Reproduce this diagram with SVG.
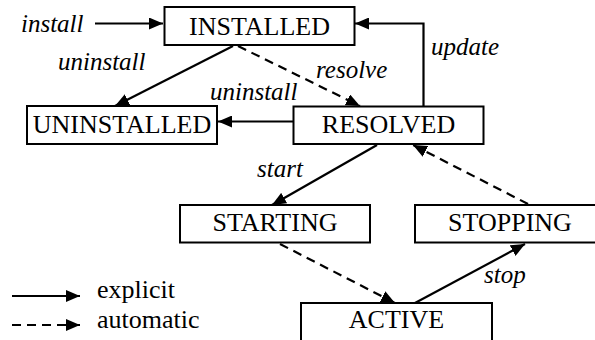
<svg xmlns="http://www.w3.org/2000/svg" width="595" height="340" viewBox="0 0 595 340">
  <style>
    .box { fill: #fff; stroke: #000; stroke-width: 2; }
    .state { font-size: 26px; fill: #000; text-anchor: middle; }
    .lbl { font-size: 25px; font-style: italic; fill: #000; }
    .legend { font-size: 26px; fill: #000; }
    .edge { fill: none; stroke: #000; stroke-width: 2.2; marker-end: url(#head); }
    .dash { stroke-dasharray: 9 6; }
  </style>
  <defs>
    <marker id="head" viewBox="0 0 14 12" refX="14" refY="6" markerWidth="14" markerHeight="12" markerUnits="userSpaceOnUse" orient="auto">
      <path d="M0,0 L14,6 L0,12 Z" fill="#000"/>
    </marker>
  </defs>

  <g id="connectors">
    <!-- entry -->
    <line class="edge" x1="95" y1="23.5" x2="163" y2="23.5"/>
    <!-- INSTALLED -> UNINSTALLED -->
    <line class="edge" x1="233" y1="46" x2="115" y2="106"/>
    <!-- INSTALLED -> RESOLVED -->
    <line class="edge dash" x1="238" y1="46" x2="360" y2="106"/>
    <!-- RESOLVED -> UNINSTALLED -->
    <line class="edge" x1="293" y1="121.5" x2="218" y2="121.5"/>
    <!-- RESOLVED -> INSTALLED (update) -->
    <polyline class="edge" points="423.5,106 423.5,23.5 355,23.5"/>
    <!-- RESOLVED -> STARTING -->
    <line class="edge" x1="377" y1="145" x2="272" y2="205"/>
    <!-- STARTING -> ACTIVE -->
    <line class="edge dash" x1="280" y1="244" x2="395" y2="303"/>
    <!-- ACTIVE -> STOPPING -->
    <line class="edge" x1="415" y1="303" x2="525" y2="244"/>
    <!-- STOPPING -> RESOLVED -->
    <line class="edge dash" x1="528" y1="204" x2="413" y2="145"/>
    <!-- legend -->
    <line class="edge" x1="12" y1="296" x2="80" y2="296"/>
    <line class="edge dash" x1="12" y1="325" x2="80" y2="325"/>
  </g>

  <g font-family="Liberation Serif, Times New Roman, serif">
    <g id="installed">
      <rect class="box" x="164.5" y="7" width="190" height="38"/>
      <text class="state" x="259.5" y="35">INSTALLED</text>
    </g>
    <g id="uninstalled">
      <rect class="box" x="27" y="106" width="190" height="38"/>
      <text class="state" x="122" y="133">UNINSTALLED</text>
    </g>
    <g id="resolved">
      <rect class="box" x="293.5" y="106.5" width="190" height="37.5"/>
      <text class="state" x="388.5" y="133">RESOLVED</text>
    </g>
    <g id="starting">
      <rect class="box" x="180" y="205" width="190" height="37.5"/>
      <text class="state" x="275" y="231">STARTING</text>
    </g>
    <g id="stopping">
      <rect class="box" x="415" y="205" width="190" height="37.5"/>
      <text class="state" x="510" y="231">STOPPING</text>
    </g>
    <g id="active">
      <rect class="box" x="301" y="303" width="191" height="45"/>
      <text class="state" x="396.5" y="328">ACTIVE</text>
    </g>

    <g id="labels">
      <text class="lbl" x="21" y="32">install</text>
      <text class="lbl" x="58" y="70">uninstall</text>
      <text class="lbl" x="316" y="78">resolve</text>
      <text class="lbl" x="210" y="100">uninstall</text>
      <text class="lbl" x="431" y="55">update</text>
      <text class="lbl" x="257" y="177">start</text>
      <text class="lbl" x="484" y="283">stop</text>
    </g>

    <g id="legend">
      <text class="legend" x="97" y="298">explicit</text>
      <text class="legend" x="97" y="328">automatic</text>
    </g>
  </g>
</svg>
